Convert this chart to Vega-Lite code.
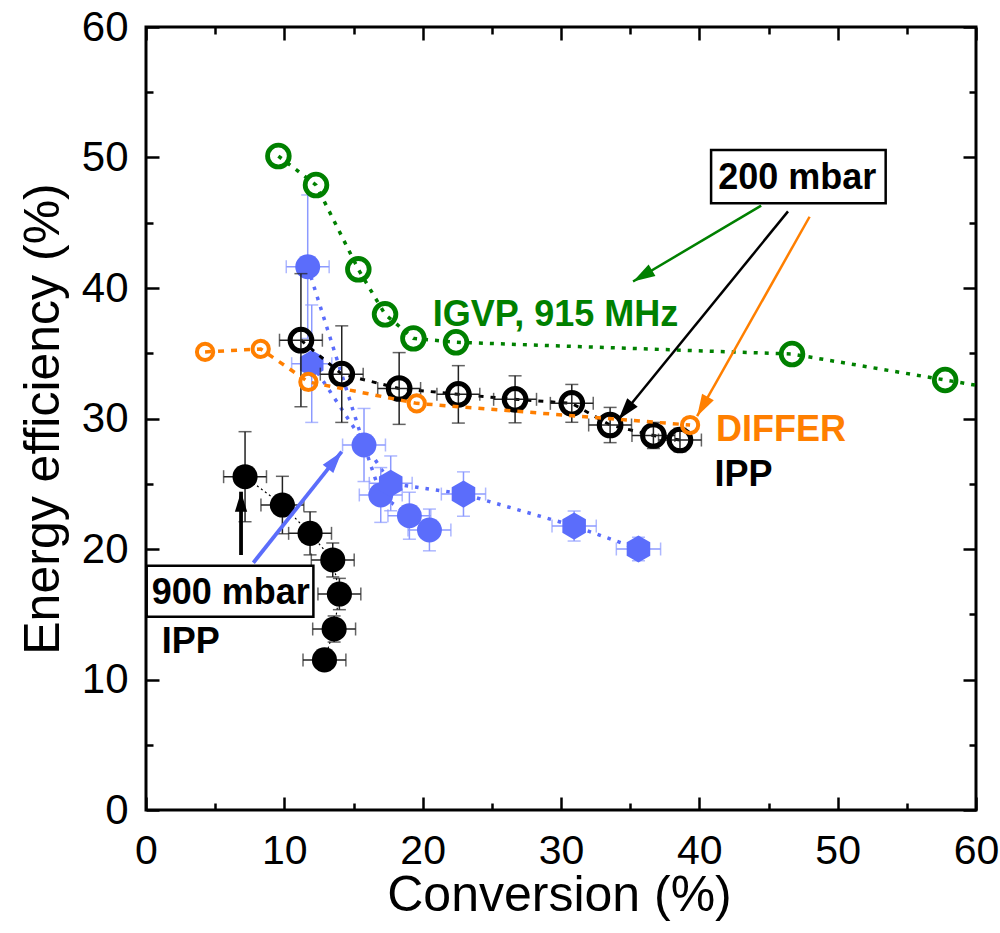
{
  "$schema": "https://vega.github.io/schema/vega-lite/v6.json",
  "width": 830,
  "height": 783,
  "autosize": {"type": "none"},
  "padding": {"left": 146, "top": 27, "right": 24, "bottom": 123},
  "background": "white",
  "datasets": {
    "green": [
      {"x": 9.57, "y": 50.11}, {"x": 12.29, "y": 47.89}, {"x": 15.35, "y": 41.43},
      {"x": 17.28, "y": 37.98}, {"x": 19.33, "y": 36.14}, {"x": 22.41, "y": 35.84},
      {"x": 46.7, "y": 34.94}, {"x": 57.77, "y": 32.95}, {"x": 62.5, "y": 32.1}
    ],
    "orange": [
      {"x": 4.27, "y": 35.1}, {"x": 8.29, "y": 35.33}, {"x": 11.74, "y": 32.8},
      {"x": 19.57, "y": 31.16}, {"x": 39.33, "y": 29.5}
    ],
    "ipp200": [
      {"x": 11.2, "y": 36.0, "ex": 1.55, "ey": 5.1},
      {"x": 14.15, "y": 33.4, "ex": 1.55, "ey": 3.7},
      {"x": 18.3, "y": 32.3, "ex": 1.55, "ey": 2.75},
      {"x": 22.58, "y": 31.85, "ex": 1.55, "ey": 2.2},
      {"x": 26.68, "y": 31.47, "ex": 1.55, "ey": 1.8},
      {"x": 30.78, "y": 31.16, "ex": 1.55, "ey": 1.45},
      {"x": 33.55, "y": 29.5, "ex": 1.55, "ey": 1.35},
      {"x": 36.68, "y": 28.7, "ex": 1.55, "ey": 1.0},
      {"x": 38.6, "y": 28.35, "ex": 1.55, "ey": 0.9}
    ],
    "ipp900": [
      {"n": 1, "x": 7.16, "y": 25.54, "ex": 1.55, "ey": 3.45},
      {"n": 2, "x": 9.86, "y": 23.37, "ex": 1.55, "ey": 2.2},
      {"n": 3, "x": 11.86, "y": 21.2, "ex": 1.55, "ey": 1.65},
      {"n": 4, "x": 13.5, "y": 19.16, "ex": 1.55, "ey": 1.3},
      {"n": 5, "x": 13.98, "y": 16.55, "ex": 1.55, "ey": 1.2},
      {"n": 6, "x": 13.6, "y": 13.87, "ex": 1.55, "ey": 1.0},
      {"n": 7, "x": 12.9, "y": 11.5, "ex": 1.55, "ey": 0.8}
    ],
    "blueC": [
      {"x": 11.69, "y": 41.63, "ex": 1.55, "ey": 5.5},
      {"x": 15.76, "y": 27.97, "ex": 1.55, "ey": 2.8},
      {"x": 16.97, "y": 24.14, "ex": 1.55, "ey": 2.1},
      {"x": 19.04, "y": 22.55, "ex": 1.55, "ey": 1.8},
      {"x": 20.49, "y": 21.46, "ex": 1.55, "ey": 1.6}
    ],
    "blueH": [
      {"x": 11.98, "y": 34.2, "ex": 1.45, "ey": 4.5},
      {"x": 17.69, "y": 25.03, "ex": 1.55, "ey": 2.1},
      {"x": 22.95, "y": 24.21, "ex": 1.6, "ey": 1.7},
      {"x": 30.95, "y": 21.76, "ex": 1.6, "ey": 1.15},
      {"x": 35.6, "y": 20.0, "ex": 1.6, "ey": 0.9}
    ],
    "notes": [
      {"x": 20.73, "y": 37.09, "t": "IGVP, 915 MHz", "s": "IGVP"},
      {"x": 41.2, "y": 28.25, "t": "DIFFER", "s": "DIFFER"},
      {"x": 41.1, "y": 24.83, "t": "IPP", "s": "IPP"},
      {"x": 1.13, "y": 12.0, "t": "IPP", "s": "IPP"},
      {"x": 41.36, "y": 47.59, "t": "200 mbar", "s": "IPP"},
      {"x": 0.41, "y": 15.76, "t": "900 mbar", "s": "IPP"}
    ],
    "boxes": [
      {"x": 40.85, "x2": 53.47, "y": 50.57, "y2": 46.49},
      {"x": 0.05, "x2": 12.1, "y": 18.72, "y2": 14.81}
    ],
    "arrows": [
      {"a": "g", "s": "IGVP", "x2": 44.47, "y2": 46.31, "x": 35.21, "y": 40.5},
      {"a": "k", "s": "IPP", "x2": 46.41, "y2": 45.87, "x": 34.16, "y": 29.92},
      {"a": "o", "s": "DIFFER", "x2": 47.97, "y2": 45.46, "x": 39.84, "y": 30.18},
      {"a": "v", "s": "IPP", "x2": 6.87, "y2": 19.54, "x": 6.87, "y": 24.39},
      {"a": "b", "s": "BLUE", "x2": 7.76, "y2": 18.95, "x": 14.15, "y": 27.46}
    ]
  },
  "layer": [
    {
      "encoding": {
        "x": {
          "field": "x", "type": "quantitative",
          "scale": {"domain": [0, 60], "nice": false, "zero": false},
          "axis": {
            "orient": "bottom",
            "title": "Conversion (%)",
            "values": [0, 5, 10, 15, 20, 25, 30, 35, 40, 45, 50, 55, 60],
            "labelExpr": "datum.value % 10 === 0 ? datum.label : ''",
            "tickSize": {"condition": {"test": "datum.value % 10 === 0", "value": -13}, "value": -7},
            "labelPadding": 34,
            "labelFontSize": 41,
            "titleFontSize": 50,
            "titleFontWeight": "normal",
            "titleX": 413,
            "titleY": 100,
            "titleAlign": "center",
            "titleBaseline": "alphabetic"
          }
        },
        "y": {
          "field": "y", "type": "quantitative",
          "scale": {"domain": [0, 60], "nice": false, "zero": false},
          "axis": {
            "orient": "left",
            "title": "Energy efficiency (%)",
            "values": [0, 5, 10, 15, 20, 25, 30, 35, 40, 45, 50, 55, 60],
            "labelExpr": "datum.value % 10 === 0 ? datum.label : ''",
            "tickSize": {"condition": {"test": "datum.value % 10 === 0", "value": -13}, "value": -7},
            "labelPadding": 31,
            "labelFontSize": 42,
            "titleFontSize": 50,
            "titleFontWeight": "normal",
            "titleX": -88,
            "titleY": 391.5,
            "titleAngle": 270,
            "titleAlign": "center",
            "titleBaseline": "alphabetic"
          }
        }
      },
      "layer": [
        {"data": {"name": "blueC"}, "mark": {"type": "line", "color": "#5b6dfb", "strokeWidth": 3.5, "strokeDash": [3.5, 7]}, "encoding": {}},
        {"data": {"name": "blueH"}, "mark": {"type": "line", "color": "#5b6dfb", "strokeWidth": 3.5, "strokeDash": [3.5, 7]}, "encoding": {}},
        {"data": {"name": "blueC"}, "mark": {"type": "errorbar", "ticks": true, "size": 13, "thickness": 1.5, "color": "#8c9aff"}, "encoding": {"xError": {"field": "ex"}}},
        {"data": {"name": "blueC"}, "mark": {"type": "errorbar", "ticks": true, "size": 13, "thickness": 1.5, "color": "#8c9aff"}, "encoding": {"yError": {"field": "ey"}}},
        {"data": {"name": "blueH"}, "mark": {"type": "errorbar", "ticks": true, "size": 13, "thickness": 1.5, "color": "#8c9aff"}, "encoding": {"xError": {"field": "ex"}}},
        {"data": {"name": "blueH"}, "mark": {"type": "errorbar", "ticks": true, "size": 13, "thickness": 1.5, "color": "#8c9aff"}, "encoding": {"yError": {"field": "ey"}}},
        {"data": {"name": "blueC"}, "mark": {"type": "point", "shape": "circle", "filled": true, "opacity": 1, "color": "#5b6dfb", "size": 620}},
        {"data": {"name": "blueH"}, "mark": {"type": "point", "shape": "M0,-1L0.866,-0.5L0.866,0.5L0,1L-0.866,0.5L-0.866,-0.5Z", "filled": true, "opacity": 1, "color": "#5b6dfb", "size": 740}},

        {"data": {"name": "ipp900"}, "mark": {"type": "line", "color": "#000000", "strokeWidth": 1.2, "strokeDash": [2, 3]}, "encoding": {"order": {"field": "n", "type": "quantitative"}}},
        {"data": {"name": "ipp900"}, "mark": {"type": "errorbar", "ticks": true, "size": 13, "thickness": 1.5, "color": "#222222"}, "encoding": {"xError": {"field": "ex"}}},
        {"data": {"name": "ipp900"}, "mark": {"type": "errorbar", "ticks": true, "size": 13, "thickness": 1.5, "color": "#222222"}, "encoding": {"yError": {"field": "ey"}}},
        {"data": {"name": "ipp900"}, "mark": {"type": "point", "shape": "circle", "filled": true, "opacity": 1, "color": "#000000", "size": 630}},

        {"data": {"name": "ipp200"}, "mark": {"type": "line", "color": "#000000", "strokeWidth": 3, "strokeDash": [5, 7]}, "encoding": {}},
        {"data": {"name": "ipp200"}, "mark": {"type": "errorbar", "ticks": true, "size": 13, "thickness": 1.5, "color": "#222222"}, "encoding": {"xError": {"field": "ex"}}},
        {"data": {"name": "ipp200"}, "mark": {"type": "errorbar", "ticks": true, "size": 13, "thickness": 1.5, "color": "#222222"}, "encoding": {"yError": {"field": "ey"}}},
        {"data": {"name": "ipp200"}, "mark": {"type": "point", "shape": "circle", "filled": false, "opacity": 1, "color": "#000000", "strokeWidth": 5, "size": 470}},

        {"data": {"name": "orange"}, "mark": {"type": "line", "color": "#ff7f00", "strokeWidth": 3.5, "strokeDash": [6, 7]}, "encoding": {}},
        {"data": {"name": "orange"}, "mark": {"type": "point", "shape": "circle", "filled": false, "opacity": 1, "color": "#ff7f00", "strokeWidth": 4, "size": 265}},

        {"data": {"name": "green"}, "mark": {"type": "line", "color": "#008000", "strokeWidth": 3.5, "strokeDash": [4, 7], "clip": true}, "encoding": {}},
        {"data": {"name": "green"}, "transform": [{"filter": "datum.x <= 60"}], "mark": {"type": "point", "shape": "circle", "filled": false, "opacity": 1, "color": "#008000", "strokeWidth": 4.8, "size": 470}},

        {"data": {"name": "boxes"}, "mark": {"type": "rect", "fill": "white", "stroke": "black", "strokeWidth": 2.5}, "encoding": {"x2": {"field": "x2"}, "y2": {"field": "y2"}}},
        {"data": {"name": "notes"}, "mark": {"type": "text", "font": "Liberation Sans", "fontWeight": "bold", "fontSize": 36, "align": "left", "baseline": "alphabetic"},
         "encoding": {"text": {"field": "t"}, "color": {"field": "s", "type": "nominal", "scale": {"domain": ["IGVP", "DIFFER", "IPP", "BLUE"], "range": ["#008000", "#ff7f00", "#000000", "#5b6dfb"]}, "legend": null}}},
        {"data": {"name": "arrows"}, "transform": [{"filter": "datum.a === 'g' || datum.a === 'k' || datum.a === 'o'"}], "mark": {"type": "rule", "strokeWidth": 2.5},
         "encoding": {"x2": {"field": "x2"}, "y2": {"field": "y2"}, "color": {"field": "s", "type": "nominal", "scale": {"domain": ["IGVP", "DIFFER", "IPP", "BLUE"], "range": ["#008000", "#ff7f00", "#000000", "#5b6dfb"]}, "legend": null}}},
        {"data": {"name": "arrows"}, "transform": [{"filter": "datum.a === 'v' || datum.a === 'b'"}], "mark": {"type": "rule", "strokeWidth": 3.8},
         "encoding": {"x2": {"field": "x2"}, "y2": {"field": "y2"}, "color": {"field": "s", "type": "nominal", "scale": {"domain": ["IGVP", "DIFFER", "IPP", "BLUE"], "range": ["#008000", "#ff7f00", "#000000", "#5b6dfb"]}, "legend": null}}},
        {"data": {"name": "arrows"}, "transform": [{"filter": "datum.a === 'g'"}], "mark": {"type": "point", "shape": "M0,0L-0.55,1.8L0.55,1.8Z", "filled": true, "opacity": 1, "size": 600, "angle": -120.6, "color": "#008000"}},
        {"data": {"name": "arrows"}, "transform": [{"filter": "datum.a === 'k'"}], "mark": {"type": "point", "shape": "M0,0L-0.55,1.8L0.55,1.8Z", "filled": true, "opacity": 1, "size": 600, "angle": -140.85, "color": "#000000"}},
        {"data": {"name": "arrows"}, "transform": [{"filter": "datum.a === 'o'"}], "mark": {"type": "point", "shape": "M0,0L-0.55,1.8L0.55,1.8Z", "filled": true, "opacity": 1, "size": 600, "angle": -150.6, "color": "#ff7f00"}},
        {"data": {"name": "arrows"}, "transform": [{"filter": "datum.a === 'v'"}], "mark": {"type": "point", "shape": "M0,0L-0.55,1.8L0.55,1.8Z", "filled": true, "opacity": 1, "size": 500, "angle": 0, "color": "#000000"}},
        {"data": {"name": "arrows"}, "transform": [{"filter": "datum.a === 'b'"}], "mark": {"type": "point", "shape": "M0,0L-0.55,1.8L0.55,1.8Z", "filled": true, "opacity": 1, "size": 600, "angle": 38.5, "color": "#5b6dfb"}}
      ]
    },
    {
      "data": {"name": "orange"},
      "mark": {"type": "point", "opacity": 0},
      "encoding": {
        "x": {
          "field": "x", "type": "quantitative",
          "scale": {"domain": [0, 60], "nice": false, "zero": false},
          "axis": {
            "orient": "top", "title": null, "labels": false,
            "values": [0, 5, 10, 15, 20, 25, 30, 35, 40, 45, 50, 55, 60],
            "tickSize": {"condition": {"test": "datum.value % 10 === 0", "value": -13}, "value": -7}
          }
        },
        "y": {
          "field": "y", "type": "quantitative",
          "scale": {"domain": [0, 60], "nice": false, "zero": false},
          "axis": {
            "orient": "right", "title": null, "labels": false,
            "values": [0, 5, 10, 15, 20, 25, 30, 35, 40, 45, 50, 55, 60],
            "tickSize": {"condition": {"test": "datum.value % 10 === 0", "value": -13}, "value": -7}
          }
        }
      }
    }
  ],
  "resolve": {"axis": {"x": "independent", "y": "independent"}},
  "config": {
    "view": {"stroke": "black", "strokeWidth": 3},
    "axis": {
      "domain": false,
      "grid": false,
      "tickColor": "black",
      "tickWidth": 2.5,
      "labelFont": "Liberation Sans",
      "titleFont": "Liberation Sans",
      "labelColor": "black",
      "titleColor": "black",
      "labelFlush": false,
      "labelOverlap": false
    }
  }
}
